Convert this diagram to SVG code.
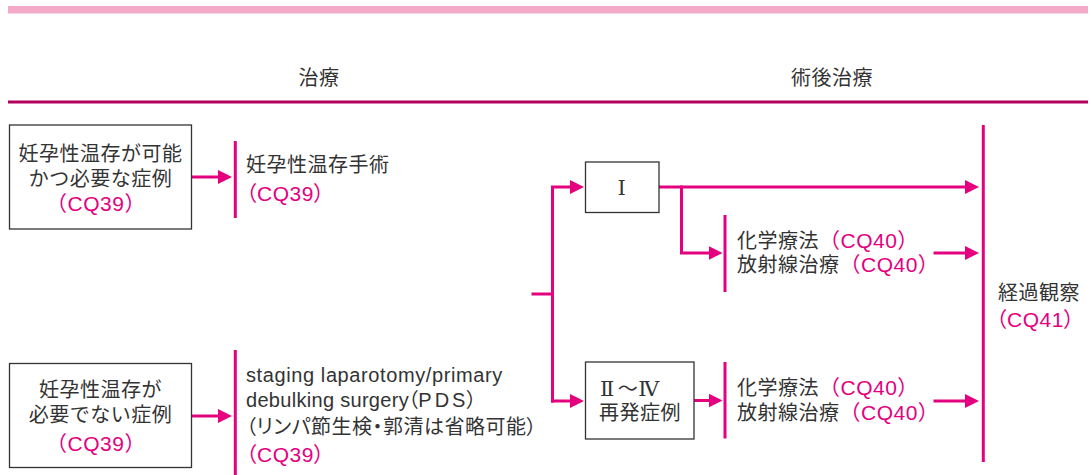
<svg xmlns="http://www.w3.org/2000/svg" width="1091" height="475" viewBox="0 0 1091 475">
<style>
text{font-family:"Liberation Sans","Noto Sans CJK JP",sans-serif;font-size:20px;fill:#333;letter-spacing:0.5px}
.m{fill:#e4007f;font-size:21px}
.c{text-anchor:middle}
.p{font-feature-settings:"palt"}
.rn{font-family:"DejaVu Serif","Liberation Serif","Noto Sans CJK JP",serif;font-size:21px}
.box{fill:#fff;stroke:#333;stroke-width:1.3}
.ln{fill:none;stroke:#e4007f;stroke-width:3;stroke-linecap:square;stroke-linejoin:miter}
.bar{stroke:#e4007f;stroke-width:3}
</style>
<defs>
<marker id="ah" markerUnits="userSpaceOnUse" markerWidth="14" markerHeight="14" viewBox="0 0 14 14" refX="2" refY="7" orient="auto">
<path d="M0,0 L14,7 L0,14 Z" fill="#e4007f"/>
</marker>
</defs>

<g id="header">
<rect x="8" y="6" width="1080" height="7.5" fill="#f4a9c9"/>
<rect x="8" y="100.5" width="1080" height="3" fill="#b4005d"/>
<text class="c" x="319" y="85">治療</text>
<text class="c" x="832" y="85">術後治療</text>
</g>

<g id="connectors">
<path class="ln" d="M192,177 H220" marker-end="url(#ah)"/>
<path class="ln" d="M192,416 H220" marker-end="url(#ah)"/>
<path class="ln" d="M533,294 H552.5"/>
<path class="ln" d="M552.5,401 V187 H572" marker-end="url(#ah)"/>
<path class="ln" d="M552.5,401 H572" marker-end="url(#ah)"/>
<path class="ln" d="M659,187 H967" marker-end="url(#ah)"/>
<path class="ln" d="M681.5,187 V253 H710.5" marker-end="url(#ah)"/>
<path class="ln" d="M935,253 H967" marker-end="url(#ah)"/>
<path class="ln" d="M694,400.5 H710.5" marker-end="url(#ah)"/>
<path class="ln" d="M935,401 H967" marker-end="url(#ah)"/>
</g>

<g id="node-preserve-possible">
<rect class="box" x="9.5" y="125" width="182" height="104"/>
<text class="c" x="100.5" y="161">妊孕性温存が可能</text>
<text class="c" x="100.5" y="186">かつ必要な症例</text>
<text class="c m" x="96" y="211">（CQ39）</text>
</g>

<g id="node-preserve-surgery">
<line class="bar" x1="235.3" y1="141" x2="235.3" y2="218"/>
<text x="246" y="172">妊孕性温存手術</text>
<text class="m p" x="246" y="200.5">（CQ39）</text>
</g>

<g id="node-preserve-not-needed">
<rect class="box" x="9.5" y="363.5" width="182" height="104"/>
<text class="c" x="100.5" y="397">妊孕性温存が</text>
<text class="c" x="100.5" y="422">必要でない症例</text>
<text class="c m" x="96" y="451">（CQ39）</text>
</g>

<g id="node-staging">
<line class="bar" x1="235.3" y1="350" x2="235.3" y2="475"/>
<text x="246" y="381.5" style="letter-spacing:0.6px">staging laparotomy/primary</text>
<text class="p" x="246" y="406.5" style="letter-spacing:0.3px">debulking surgery<tspan dx="-1">（</tspan><tspan style="letter-spacing:3px">PDS</tspan><tspan dx="-2">）</tspan></text>
<text class="p" x="246" y="433.5">（リンパ節生検・郭清は省略可能）</text>
<text class="m p" x="246" y="462">（CQ39）</text>
</g>

<g id="node-stage1">
<rect class="box" x="585.5" y="162" width="73.5" height="50.5"/>
<text class="c rn" x="622" y="194.5">Ⅰ</text>
</g>

<g id="node-stage1-adjuvant">
<line class="bar" x1="725" y1="215" x2="725" y2="292"/>
<text x="737" y="247.5">化学療法<tspan class="m">（CQ40）</tspan></text>
<text x="737" y="272">放射線治療<tspan class="m">（CQ40）</tspan></text>
</g>

<g id="node-stage2-4">
<rect class="box" x="585.5" y="362" width="108.5" height="77"/>
<text class="rn" x="600" y="395.5">Ⅱ<tspan dx="3" font-family="Noto Sans CJK JP" font-size="20">～</tspan>Ⅳ</text>
<text class="c" x="640" y="419.5">再発症例</text>
</g>

<g id="node-stage2-4-adjuvant">
<line class="bar" x1="725" y1="362" x2="725" y2="438.5"/>
<text x="737" y="395">化学療法<tspan class="m">（CQ40）</tspan></text>
<text x="737" y="420">放射線治療<tspan class="m">（CQ40）</tspan></text>
</g>

<g id="node-observation">
<line class="bar" x1="983.3" y1="125" x2="983.3" y2="462"/>
<text x="998" y="300">経過観察</text>
<text class="m p" x="996" y="327">（CQ41）</text>
</g>
</svg>
